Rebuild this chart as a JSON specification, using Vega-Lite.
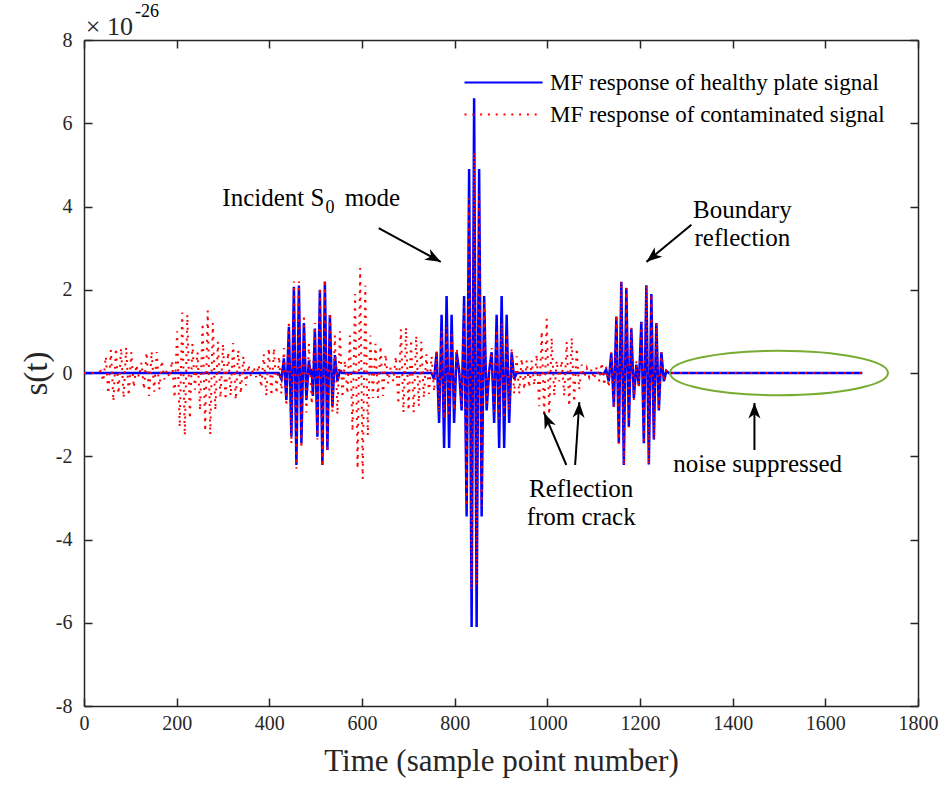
{
  "$schema": "https://vega.github.io/schema/vega-lite/v6.json",
  "width": 834,
  "height": 666,
  "autosize": {"type": "none"},
  "padding": {"left": 84, "top": 40, "right": 29, "bottom": 81},
  "background": "white",
  "config": {
    "font": "Liberation Serif",
    "view": {"stroke": null},
    "axis": {
      "grid": false,
      "labelFont": "Liberation Serif",
      "labelFontSize": 20,
      "labelColor": "#262626",
      "labelFlush": false,
      "titleFont": "Liberation Serif",
      "titleFontWeight": "normal",
      "titleColor": "#262626",
      "domainColor": "#262626",
      "domainWidth": 1.5,
      "tickColor": "#262626",
      "tickWidth": 1.5,
      "tickSize": -8
    },
    "legend": {
      "orient": "none",
      "legendX": 379,
      "legendY": 32,
      "symbolType": "stroke",
      "symbolSize": 6084,
      "symbolStrokeWidth": 2.2,
      "clipHeight": 21,
      "rowPadding": 8,
      "padding": 0,
      "labelOffset": 6,
      "labelFont": "Liberation Serif",
      "labelFontSize": 23,
      "labelColor": "#000000",
      "labelLimit": 600,
      "title": null
    }
  },
  "datasets": {
    "healthy": [
      {"t":0,"v":0},{"t":420,"v":0},{"t":426,"v":-0.15},{"t":431.4,"v":0.35},{"t":436.8,"v":-0.65},{"t":442.2,"v":1.11},{"t":447.6,"v":-1.53},{"t":453,"v":2.07},{"t":458.4,"v":-2.21},{"t":463.8,"v":2.1},{"t":469.2,"v":-1.69},{"t":474.6,"v":1.2},{"t":480,"v":-0.65},{"t":485.4,"v":0.3},{"t":489,"v":-0.05},{"t":491.5,"v":0.1},{"t":494,"v":-0.55},{"t":498.3,"v":1.07},{"t":503.7,"v":-1.53},{"t":509.1,"v":2.0},{"t":514.5,"v":-2.21},{"t":519.9,"v":2.19},{"t":525.3,"v":-1.85},{"t":530.7,"v":1.39},{"t":536.1,"v":-0.81},{"t":541.5,"v":0.43},{"t":546.9,"v":-0.2},{"t":552.3,"v":0.05},{"t":557,"v":0},
      {"t":750.2,"v":0},{"t":755.6,"v":-0.15},{"t":761,"v":0.5},{"t":766.4,"v":-1.2},{"t":771.8,"v":1.4},{"t":777.2,"v":-1.8},{"t":782.6,"v":1.85},{"t":788,"v":-1.8},{"t":793.4,"v":1.4},{"t":798.8,"v":-1.2},{"t":804.2,"v":0.5},{"t":809.6,"v":0.05},{"t":815,"v":-0.9},{"t":820.4,"v":1.85},{"t":825.8,"v":-3.45},{"t":831.2,"v":4.9},{"t":836.6,"v":-6.1},{"t":842,"v":6.6},{"t":847.4,"v":-6.1},{"t":852.8,"v":4.9},{"t":858.2,"v":-3.45},{"t":863.6,"v":1.85},{"t":869,"v":-0.9},{"t":874.4,"v":0.05},{"t":879.8,"v":0.5},{"t":885.2,"v":-1.2},{"t":890.6,"v":1.4},{"t":896,"v":-1.8},{"t":901.4,"v":1.85},{"t":906.8,"v":-1.8},{"t":912.2,"v":1.4},{"t":917.6,"v":-1.2},{"t":923,"v":0.5},{"t":928.4,"v":-0.15},{"t":933.8,"v":0},
      {"t":1115,"v":0},{"t":1121,"v":-0.03},{"t":1127,"v":0.08},{"t":1132.5,"v":-0.2},{"t":1138,"v":0.48},{"t":1143.5,"v":-0.81},{"t":1149,"v":1.35},{"t":1154.3,"v":-1.69},{"t":1159.7,"v":2.19},{"t":1165.1,"v":-2.21},{"t":1170.5,"v":2.04},{"t":1175.9,"v":-1.29},{"t":1181.3,"v":1.07},{"t":1186.7,"v":-0.6},{"t":1192.1,"v":0.2},{"t":1197.5,"v":-0.3},{"t":1202.9,"v":1.23},{"t":1208.3,"v":-1.69},{"t":1213.7,"v":2.11},{"t":1219.1,"v":-2.2},{"t":1224.5,"v":1.9},{"t":1229.9,"v":-1.6},{"t":1235.3,"v":1.2},{"t":1240.7,"v":-0.9},{"t":1246.1,"v":0.5},{"t":1251.5,"v":-0.2},{"t":1256.9,"v":0.05},{"t":1262,"v":0},{"t":1680,"v":0}
    ],
    "contaminated": [
      {"t":0,"v":0},{"t":30,"v":0},{"t":36,"v":0.05},{"t":41.5,"v":-0.2},{"t":47,"v":0.4},{"t":52.5,"v":-0.5},{"t":58,"v":0.55},{"t":63.5,"v":-0.68},{"t":69,"v":0.6},{"t":74.5,"v":-0.5},{"t":80,"v":0.6},{"t":85.5,"v":-0.6},{"t":91,"v":0.62},{"t":96.5,"v":-0.55},{"t":102,"v":0.5},{"t":107.5,"v":-0.35},{"t":113,"v":0.2},{"t":118.5,"v":-0.1},{"t":124,"v":0.25},{"t":129.5,"v":-0.4},{"t":135,"v":0.5},{"t":140.5,"v":-0.55},{"t":146,"v":0.52},{"t":151.5,"v":-0.45},{"t":157,"v":0.5},{"t":162.5,"v":-0.4},{"t":168,"v":0.3},{"t":173.5,"v":-0.15},{"t":179,"v":0.08},{"t":184.5,"v":-0.12},{"t":190,"v":0.3},{"t":195.5,"v":-0.6},{"t":201,"v":1.0},{"t":206.5,"v":-1.3},{"t":212,"v":1.45},{"t":217.5,"v":-1.5},{"t":223,"v":1.4},{"t":228.5,"v":-1.1},{"t":234,"v":0.7},{"t":239.5,"v":-0.4},{"t":245,"v":0.5},{"t":250.5,"v":-0.9},{"t":256,"v":1.2},{"t":261.5,"v":-1.4},{"t":267,"v":1.5},{"t":272.5,"v":-1.48},{"t":278,"v":1.2},{"t":283.5,"v":-0.9},{"t":289,"v":0.75},{"t":294.5,"v":-0.6},{"t":300,"v":0.7},{"t":305.5,"v":-0.65},{"t":311,"v":0.5},{"t":316.5,"v":-0.55},{"t":322,"v":0.72},{"t":327.5,"v":-0.65},{"t":333,"v":0.55},{"t":338.5,"v":-0.5},{"t":344,"v":0.4},{"t":349.5,"v":-0.3},{"t":355,"v":0.2},{"t":360.5,"v":-0.1},{"t":366,"v":0.15},{"t":371.5,"v":-0.1},{"t":377,"v":0.2},{"t":382.5,"v":-0.35},{"t":388,"v":0.45},{"t":393.5,"v":-0.55},{"t":399,"v":0.6},{"t":404.5,"v":-0.55},{"t":410,"v":0.6},{"t":415.5,"v":-0.5},{"t":421,"v":0.4},
      {"t":426,"v":-0.5},{"t":431.4,"v":0.6},{"t":436.8,"v":-0.8},{"t":442.2,"v":1.25},{"t":447.6,"v":-1.7},{"t":453,"v":2.2},{"t":458.4,"v":-2.3},{"t":463.8,"v":2.2},{"t":469.2,"v":-1.8},{"t":474.6,"v":1.4},{"t":480,"v":-0.95},{"t":485.4,"v":0.7},{"t":491.5,"v":-0.75},{"t":498.3,"v":1.2},{"t":503.7,"v":-1.6},{"t":509.1,"v":2.05},{"t":514.5,"v":-2.25},{"t":519.9,"v":2.25},{"t":525.3,"v":-1.9},{"t":530.7,"v":1.45},{"t":536.1,"v":-0.95},{"t":541.5,"v":0.9},{"t":546.9,"v":-1.0},{"t":552.3,"v":1.0},{"t":557.7,"v":-0.6},{"t":563,"v":0.3},{"t":568.5,"v":-0.5},{"t":574,"v":0.9},{"t":579.5,"v":-1.4},{"t":585,"v":1.9},{"t":590.5,"v":-2.3},{"t":596,"v":2.52},{"t":601.5,"v":-2.55},{"t":607,"v":2.1},{"t":612.5,"v":-1.5},{"t":618,"v":0.9},{"t":623.5,"v":-0.6},{"t":629,"v":0.7},{"t":634.5,"v":-0.6},{"t":640,"v":0.65},{"t":645.5,"v":-0.55},{"t":651,"v":0.45},{"t":656.5,"v":-0.25},{"t":662,"v":0.15},{"t":667.5,"v":-0.2},{"t":673,"v":0.4},{"t":678.5,"v":-0.75},{"t":684,"v":1.05},{"t":689.5,"v":-0.95},{"t":695,"v":1.1},{"t":700.5,"v":-0.9},{"t":706,"v":0.8},{"t":711.5,"v":-0.95},{"t":717,"v":0.9},{"t":722.5,"v":-0.8},{"t":728,"v":0.75},{"t":733.5,"v":-0.6},{"t":739,"v":0.45},{"t":744.5,"v":-0.5},
      {"t":750.2,"v":0.4},{"t":755.6,"v":-0.45},{"t":761,"v":0.55},{"t":766.4,"v":-0.95},{"t":771.8,"v":1.0},{"t":777.2,"v":-1.1},{"t":782.6,"v":1.1},{"t":788,"v":-1.05},{"t":793.4,"v":1.0},{"t":798.8,"v":-0.9},{"t":804.2,"v":0.6},{"t":809.6,"v":0.1},{"t":815,"v":-0.8},{"t":820.4,"v":1.6},{"t":825.8,"v":-3.2},{"t":831.2,"v":4.2},{"t":836.6,"v":-5.2},{"t":842,"v":5.3},{"t":847.4,"v":-5.1},{"t":852.8,"v":4.3},{"t":858.2,"v":-3.2},{"t":863.6,"v":1.7},{"t":869,"v":-0.8},{"t":874.4,"v":0.1},{"t":879.8,"v":0.6},{"t":885.2,"v":-1.0},{"t":890.6,"v":1.05},{"t":896,"v":-1.1},{"t":901.4,"v":1.2},{"t":906.8,"v":-1.1},{"t":912.2,"v":0.95},{"t":917.6,"v":-0.9},{"t":923,"v":0.6},{"t":928.4,"v":-0.5},{"t":933.8,"v":0.4},
      {"t":939.2,"v":-0.5},{"t":944.6,"v":0.35},{"t":950,"v":-0.4},{"t":955.4,"v":0.3},{"t":960.8,"v":-0.35},{"t":966.2,"v":0.3},{"t":971.6,"v":-0.3},{"t":977,"v":0.45},{"t":982.4,"v":-0.8},{"t":987.8,"v":1.0},{"t":993.2,"v":-1.05},{"t":998.6,"v":1.3},{"t":1004,"v":-1.0},{"t":1009.4,"v":0.85},{"t":1014.8,"v":-0.55},{"t":1020.2,"v":0.3},{"t":1025.6,"v":-0.2},{"t":1031,"v":0.3},{"t":1036.4,"v":-0.55},{"t":1041.8,"v":0.75},{"t":1047.2,"v":-0.8},{"t":1052.6,"v":0.85},{"t":1058,"v":-0.7},{"t":1063.4,"v":0.6},{"t":1068.8,"v":-0.4},{"t":1074.2,"v":0.2},{"t":1079.6,"v":-0.1},{"t":1085,"v":0.12},{"t":1090.4,"v":-0.1},{"t":1095.8,"v":0.1},{"t":1101.2,"v":-0.15},{"t":1106.6,"v":0.15},{"t":1112,"v":-0.2},{"t":1117.4,"v":0.25},{"t":1122.8,"v":-0.3},
      {"t":1127,"v":0.15},{"t":1132.5,"v":-0.35},{"t":1138,"v":0.5},{"t":1143.5,"v":-0.85},{"t":1149,"v":1.4},{"t":1154.3,"v":-1.7},{"t":1159.7,"v":2.2},{"t":1165.1,"v":-2.22},{"t":1170.5,"v":2.05},{"t":1175.9,"v":-1.3},{"t":1181.3,"v":1.1},{"t":1186.7,"v":-0.65},{"t":1192.1,"v":0.3},{"t":1197.5,"v":-0.35},{"t":1202.9,"v":1.2},{"t":1208.3,"v":-1.7},{"t":1213.7,"v":2.1},{"t":1219.1,"v":-2.2},{"t":1224.5,"v":1.9},{"t":1229.9,"v":-1.6},{"t":1235.3,"v":1.2},{"t":1240.7,"v":-0.9},{"t":1246.1,"v":0.5},{"t":1251.5,"v":-0.2},{"t":1256.9,"v":0.05},{"t":1262,"v":0},{"t":1680,"v":0}
    ],
    "notes": [
      {"x":1421,"y":3.72,"label":"Boundary"},
      {"x":1421,"y":3.05,"label":"reflection"},
      {"x":1073,"y":-2.98,"label":"Reflection"},
      {"x":1073,"y":-3.65,"label":"from crack"},
      {"x":1454,"y":-2.38,"label":"noise suppressed"}
    ],
    "leftnotes": [
      {"x":298.6,"y":4.01,"label":"Incident S"},
      {"x":562.5,"y":4.01,"label":"mode"}
    ],
    "expo": [
      {"x":4,"y":8.12,"label":"× 10"}
    ],
    "smallnotes": [
      {"x":521.4,"y":3.85,"label":"0"},
      {"x":110,"y":8.55,"label":"-26"}
    ],
    "arrows": [
      {"x":636,"y":3.48,"x2":770,"y2":2.67,"dir":118.7},
      {"x":1311,"y":3.56,"x2":1214,"y2":2.67,"dir":230.6},
      {"x":1041,"y":-2.21,"x2":993,"y2":-0.96,"dir":336.7},
      {"x":1060,"y":-2.21,"x2":1069,"y2":-0.7,"dir":2.7},
      {"x":1447,"y":-1.85,"x2":1447,"y2":-0.72,"dir":0}
    ],
    "ellipse": [{"x":1500,"y":0}]
  },
  "resolve": {"axis": {"x": "independent", "y": "independent"}},
  "layer": [
    {
      "data": {"name": "healthy"},
      "mark": {"type": "line", "strokeWidth": 2.5, "clip": true},
      "encoding": {
        "x": {"field": "t", "type": "quantitative", "scale": {"domain": [0, 1800], "nice": false},
              "axis": {"orient": "bottom", "values": [0,200,400,600,800,1000,1200,1400,1600,1800], "title": "Time (sample point number)", "titleFontSize": 31, "labelPadding": 15, "titlePadding": 13, "labelExpr": "datum.value + ''"}},
        "y": {"field": "v", "type": "quantitative", "scale": {"domain": [-8, 8], "nice": false},
              "axis": {"orient": "left", "values": [-8,-6,-4,-2,0,2,4,6,8], "title": "s(t)", "titleFontSize": 33, "labelPadding": 20, "titlePadding": 2, "labelExpr": "datum.value + ''"}},
        "color": {"datum": "MF response of healthy plate signal", "scale": {"domain": ["MF response of healthy plate signal", "MF response of contaminated signal"], "range": ["#0000FF", "#FF0000"]}},
        "strokeDash": {"datum": "MF response of healthy plate signal", "scale": {"domain": ["MF response of healthy plate signal", "MF response of contaminated signal"], "range": [[1, 0], [2, 5.8]]}}
      }
    },
    {
      "data": {"name": "contaminated"},
      "mark": {"type": "line", "strokeWidth": 2, "clip": true},
      "encoding": {
        "x": {"field": "t", "type": "quantitative", "axis": null},
        "y": {"field": "v", "type": "quantitative", "axis": null},
        "color": {"datum": "MF response of contaminated signal"},
        "strokeDash": {"datum": "MF response of contaminated signal"}
      }
    },
    {
      "data": {"name": "ellipse"},
      "mark": {"type": "point", "shape": "M-1,0 C-1,-0.1121 -0.5523,-0.203 0,-0.203 C0.5523,-0.203 1,-0.1121 1,0 C1,0.1121 0.5523,0.203 0,0.203 C-0.5523,0.203 -1,0.1121 -1,0 Z", "size": 47524, "filled": false, "stroke": "#77AC30", "strokeWidth": 2, "opacity": 1},
      "encoding": {
        "x": {"field": "x", "type": "quantitative", "axis": {"orient": "top", "labels": false, "title": null, "values": [0,200,400,600,800,1000,1200,1400,1600,1800]}},
        "y": {"field": "y", "type": "quantitative", "axis": {"orient": "right", "labels": false, "title": null, "values": [-8,-6,-4,-2,0,2,4,6,8]}}
      }
    },
    {
      "data": {"name": "arrows"},
      "mark": {"type": "rule", "color": "#000000", "strokeWidth": 2},
      "encoding": {
        "x": {"field": "x", "type": "quantitative", "axis": null},
        "y": {"field": "y", "type": "quantitative", "axis": null},
        "x2": {"field": "x2"},
        "y2": {"field": "y2"}
      }
    },
    {
      "data": {"name": "arrows"},
      "mark": {"type": "point", "shape": "M0,0 L0.62,1.6 L0,1.15 L-0.62,1.6 Z", "size": 380, "filled": true, "color": "#000000", "opacity": 1},
      "encoding": {
        "x": {"field": "x2", "type": "quantitative", "axis": null},
        "y": {"field": "y2", "type": "quantitative", "axis": null},
        "angle": {"field": "dir", "type": "quantitative", "scale": null}
      }
    },
    {
      "data": {"name": "notes"},
      "mark": {"type": "text", "font": "Liberation Serif", "fontSize": 25, "align": "center", "baseline": "alphabetic", "color": "#000000"},
      "encoding": {
        "x": {"field": "x", "type": "quantitative", "axis": null},
        "y": {"field": "y", "type": "quantitative", "axis": null},
        "text": {"field": "label"}
      }
    },
    {
      "data": {"name": "leftnotes"},
      "mark": {"type": "text", "font": "Liberation Serif", "fontSize": 25, "align": "left", "baseline": "alphabetic", "color": "#000000"},
      "encoding": {
        "x": {"field": "x", "type": "quantitative", "axis": null},
        "y": {"field": "y", "type": "quantitative", "axis": null},
        "text": {"field": "label"}
      }
    },
    {
      "data": {"name": "expo"},
      "mark": {"type": "text", "font": "Liberation Serif", "fontSize": 26, "align": "left", "baseline": "alphabetic", "color": "#262626"},
      "encoding": {
        "x": {"field": "x", "type": "quantitative", "axis": null},
        "y": {"field": "y", "type": "quantitative", "axis": null},
        "text": {"field": "label"}
      }
    },
    {
      "data": {"name": "smallnotes"},
      "mark": {"type": "text", "font": "Liberation Serif", "fontSize": 18, "align": "left", "baseline": "alphabetic", "color": "#000000"},
      "encoding": {
        "x": {"field": "x", "type": "quantitative", "axis": null},
        "y": {"field": "y", "type": "quantitative", "axis": null},
        "text": {"field": "label"}
      }
    }
  ]
}
